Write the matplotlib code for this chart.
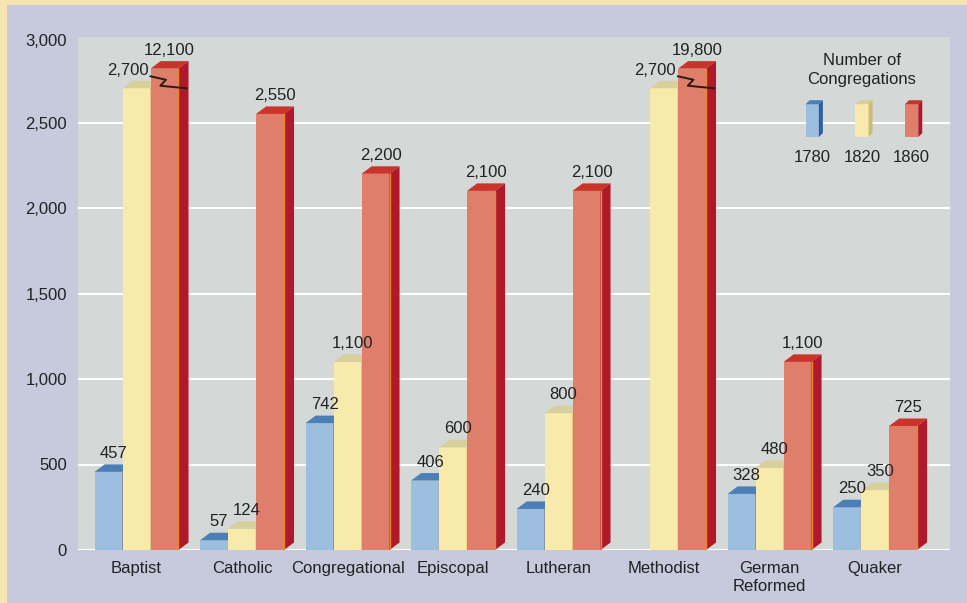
import numpy as np
import matplotlib.pyplot as plt
from matplotlib.patches import Polygon, Rectangle

plt.rcParams['font.family'] = ['Liberation Sans', 'DejaVu Sans']

# Data
categories = ["Baptist", "Catholic", "Congregational", "Episcopal", "Lutheran",
              "Methodist", "German\nReformed", "Quaker"]
years = ["1780", "1820", "1860"]
c1780 = [457, 57, 742, 406, 240, None, 328, 250]
c1820 = [2700, 124, 1100, 600, 800, 2700, 480, 350]
c1860 = [12100, 2550, 2200, 2100, 2100, 19800, 1100, 725]
yticks = [0, 500, 1000, 1500, 2000, 2500, 3000]

series = [c1780, c1820, c1860]
front = ["#9dbfdf", "#f8eaab", "#df7f6b"]
topc = ["#4c7fb6", "#d8d09c", "#c9352b"]
sidec = ["#2f5f9a", "#c9bd7c", "#b0192a"]

W = 0.265      # bar width
DX = 0.095     # depth, x data units
DY = 44        # depth, y data units
CAP = 2815     # drawn height for off-scale bars
FS = 12
TXT = "#222222"

fig = plt.figure(figsize=(9.67, 6.03), dpi=100, facecolor="#f6e5b2")
fig.patches.append(Rectangle((7 / 967, 0), 1, 1 - 5 / 603, transform=fig.transFigure,
                             facecolor="#c7c9dc", edgecolor="none", zorder=-10))
ax = fig.add_axes([78 / 967, 53 / 603, 872 / 967, 513 / 603])
ax.set_zorder(1)
ax.set_facecolor("#d4d8d6")
ax.set_xlim(-0.555, 7.71)
ax.set_ylim(0, 3000)
ax.set_yticks(yticks[:-1] + [2985])
ax.set_yticklabels([f"{v:,}" for v in yticks], fontsize=FS, color=TXT)
ax.set_xticks(range(len(categories)))
ax.set_xticklabels(categories, fontsize=FS, color=TXT, linespacing=1.25)
ax.tick_params(length=0)
ax.tick_params(axis="y", pad=8)
ax.tick_params(axis="x", pad=8)
for s in ax.spines.values():
    s.set_visible(False)
ax.set_axisbelow(True)
ax.yaxis.grid(True, color="white", lw=1.5)
ax.get_ygridlines()[-1].set_visible(False)

n = len(categories)
for i, vals in enumerate(series):
    xs = np.arange(n) + (i - 1) * W
    hs = [0 if v is None else min(v, CAP) for v in vals]
    ax.bar(xs, hs, width=W, color=front[i], zorder=3 + i)
    for j, (x, v, h) in enumerate(zip(xs, vals, hs)):
        if v is None:
            continue
        x0, x1 = x - W / 2, x + W / 2
        ax.add_patch(Polygon([(x0, h), (x1, h), (x1 + DX, h + DY), (x0 + DX, h + DY)],
                             closed=True, facecolor=topc[i], edgecolor="none", zorder=3 + i))
        ax.add_patch(Polygon([(x1, 0), (x1 + DX, DY), (x1 + DX, h + DY), (x1, h)],
                             closed=True, facecolor=sidec[i], edgecolor="none", zorder=3 + i))
        ax.plot([x1, x1], [0, h], color="#e8862a", lw=1, zorder=3 + i)
        if v > CAP:
            # break mark for off-scale bars
            zx = [x0, x0 + 0.55 * W, x0 + 0.35 * W, x1 + 0.8 * DX]
            zy = [h - 45, h - 65, h - 100, h - 115]
            ax.plot(zx, zy, color="#2a1a1a", lw=1.4, zorder=3 + i)
        nxt = series[i + 1][j] if i + 1 < len(series) else None
        if nxt is not None and nxt > CAP:
            ax.text(x1 - 0.02, h + DY + 18, f"{v:,}", ha="right", va="bottom",
                    fontsize=FS, color=TXT, zorder=10)
        else:
            ax.text(x + DX / 2, h + DY + 20, f"{v:,}", ha="center", va="bottom",
                    fontsize=FS, color=TXT, zorder=10)

# legend
ax.text(0.899, 0.936, "Number of\nCongregations", transform=ax.transAxes, ha="center",
        va="center", fontsize=FS, color=TXT, linespacing=1.3, zorder=10)
lw_, lh_, ldx, ldy, lb = 0.0152, 0.064, 0.0046, 0.0078, 0.805
for k, cx in enumerate([0.842, 0.899, 0.956]):
    x0 = cx - lw_ / 2
    x1 = cx + lw_ / 2
    ax.add_patch(Rectangle((x0, lb), lw_, lh_, transform=ax.transAxes,
                           facecolor=front[k], edgecolor="none", zorder=8))
    ax.add_patch(Polygon([(x0, lb + lh_), (x1, lb + lh_), (x1 + ldx, lb + lh_ + ldy),
                          (x0 + ldx, lb + lh_ + ldy)], closed=True, transform=ax.transAxes,
                         facecolor=topc[k], edgecolor="none", zorder=8))
    ax.add_patch(Polygon([(x1, lb), (x1 + ldx, lb + ldy), (x1 + ldx, lb + lh_ + ldy),
                          (x1, lb + lh_)], closed=True, transform=ax.transAxes,
                         facecolor=sidec[k], edgecolor="none", zorder=8))
    ax.text(cx, 0.765, years[k], transform=ax.transAxes, ha="center", va="center",
            fontsize=FS, color=TXT, zorder=10)

fig.savefig("out.png", dpi=100, facecolor=fig.get_facecolor())
